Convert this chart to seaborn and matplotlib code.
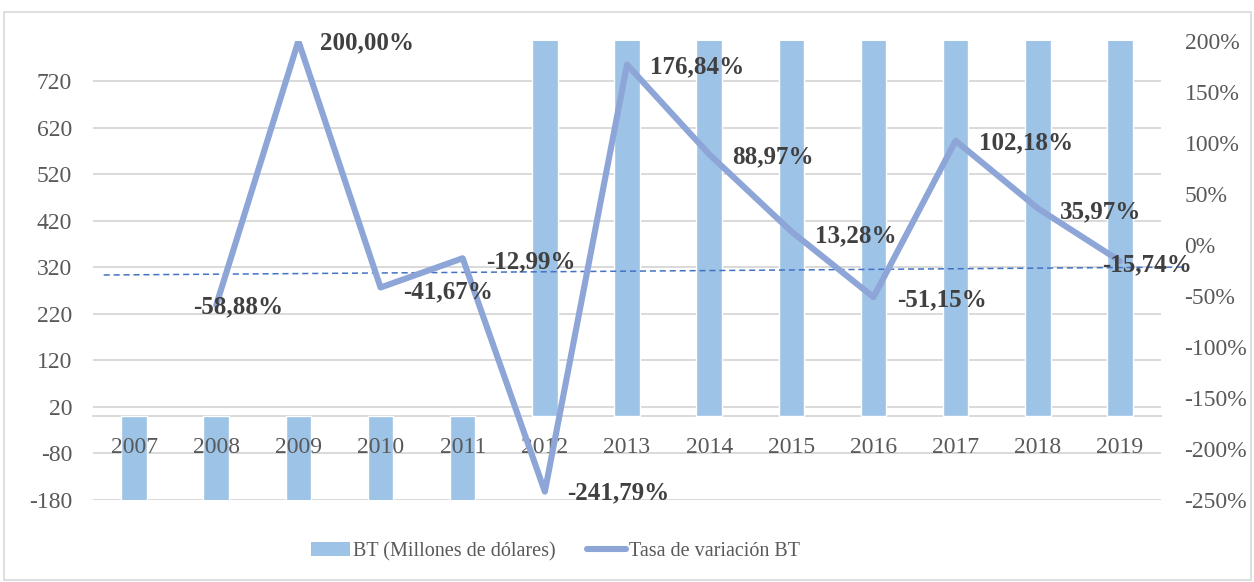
import numpy as np
import pandas as pd
import matplotlib.pyplot as plt
import seaborn as sns
from matplotlib.patches import Patch, Rectangle
from matplotlib.lines import Line2D
from matplotlib.ticker import FuncFormatter

# data (bar values are clipped in the original, so estimated)
years = ['2007', '2008', '2009', '2010', '2011', '2012', '2013',
         '2014', '2015', '2016', '2017', '2018', '2019']
bt_values = [-1200, -490, -1470, -860, -750, 1060, 2940, 5560, 6300, 3080, 6230, 8470, 7140]
rate_values = [np.nan, -58.88, 200.00, -41.67, -12.99, -241.79, 176.84,
               88.97, 13.28, -51.15, 102.18, 35.97, -15.74]
trend_values = [-29.2, -22.1]   # dashed trend line at 2007 and 2019

# label offsets in pixels (left edge dx, dy) relative to each point
label_dx = [0, -23, 22, 23, 23, 22, 23, 23, 24, 24, 23, 22, -18]
label_dy = [0, -2, -2, -4, -4, -1, -2, -3, -4, -3, -2, -4, -4]

bar_color = '#9DC3E6'
line_color = '#8EA5D8'
trend_color = '#4472C4'
tick_color = '#595959'
label_color = '#404040'
grid_color = '#D9D9D9'

df = pd.DataFrame({'year': years, 'bt': bt_values, 'rate': rate_values})
df['pos'] = np.arange(len(years))

sns.set_style('white')
plt.rcParams['font.family'] = ['Liberation Serif', 'DejaVu Serif']
plt.rcParams['axes.unicode_minus'] = False

fig = plt.figure(figsize=(12.54, 5.82), dpi=100)
ax = fig.add_axes([93 / 1254, 1 - 500 / 582, (1161 - 93) / 1254, (500 - 41) / 582])

sns.barplot(data=df, x='year', y='bt', color=bar_color, saturation=1,
            width=0.31, ax=ax, zorder=2)
ax.set_ylim(-180, 806)
ax.set_yticks(np.arange(-180, 721, 100))
ax.yaxis.grid(True, color=grid_color, linewidth=1.4)
ax.set_axisbelow(True)
ax.xaxis.set_zorder(4)  # year labels sit on top of the bars
for s in ['top', 'right', 'left']:
    ax.spines[s].set_visible(False)
ax.spines['bottom'].set_position(('data', 0))
ax.spines['bottom'].set_color(grid_color)
ax.spines['bottom'].set_linewidth(1.4)
ax.spines['bottom'].set_zorder(1)
ax.tick_params(axis='y', length=0, pad=15, labelsize=17, labelcolor=tick_color)
ax.tick_params(axis='x', length=0, pad=15, labelsize=17, labelcolor=tick_color)
ax.set_xlabel('')
ax.set_ylabel('')

ax2 = ax.twinx()
sns.lineplot(data=df, x='pos', y='rate', color=line_color, linewidth=4.4,
             ax=ax2, legend=False, zorder=3,
             solid_joinstyle='round', solid_capstyle='round')
# trend line, extended slightly past the first and last category
n = len(years) - 1
slope = (trend_values[1] - trend_values[0]) / n
tx = np.array([-0.37, n + 0.77])
ax2.plot(tx, trend_values[0] + slope * tx, ls=(0, (4, 2.5)), lw=1.1,
         color=trend_color, zorder=2, clip_on=False)
ax2.set_ylim(-250, 200)
ax2.set_yticks(np.arange(-250, 201, 50))
ax2.yaxis.set_major_formatter(FuncFormatter(lambda v, p: f'{v:.0f}%'))
ax2.tick_params(axis='y', length=0, pad=17, labelsize=17, labelcolor=tick_color)
ax2.grid(False)
for s in ax2.spines.values():
    s.set_visible(False)
ax2.set_xlim(-0.5, n + 0.5)
ax2.set_xlabel('')
ax2.set_ylabel('')

for i, v in enumerate(rate_values):
    if np.isnan(v):
        continue
    txt = f'{v:.2f}'.replace('.', ',') + '%'
    ax2.annotate(txt, (i, v), xytext=(label_dx[i], label_dy[i]),
                 textcoords='offset pixels', ha='left', va='center',
                 fontsize=18, fontweight='bold', color=label_color,
                 zorder=5, annotation_clip=False)

handles = [Patch(facecolor=bar_color, edgecolor='none'),
           Line2D([0], [0], color=line_color, lw=4.4, solid_capstyle='round')]
fig.legend(handles, ['BT (Millones de dólares)', 'Tasa de variación BT'],
           loc='center', bbox_to_anchor=(0.443, 0.052), ncol=2, frameon=False,
           fontsize=14.5, labelcolor=tick_color, handlelength=1.9,
           handletextpad=0.15, columnspacing=1.6)

fig.patches.append(Rectangle((4 / 1254, 2 / 582), 1247 / 1254, 568 / 582,
                             transform=fig.transFigure, fill=False,
                             edgecolor=grid_color, linewidth=1.2))

plt.savefig('out.png', dpi=100)
plt.close()
